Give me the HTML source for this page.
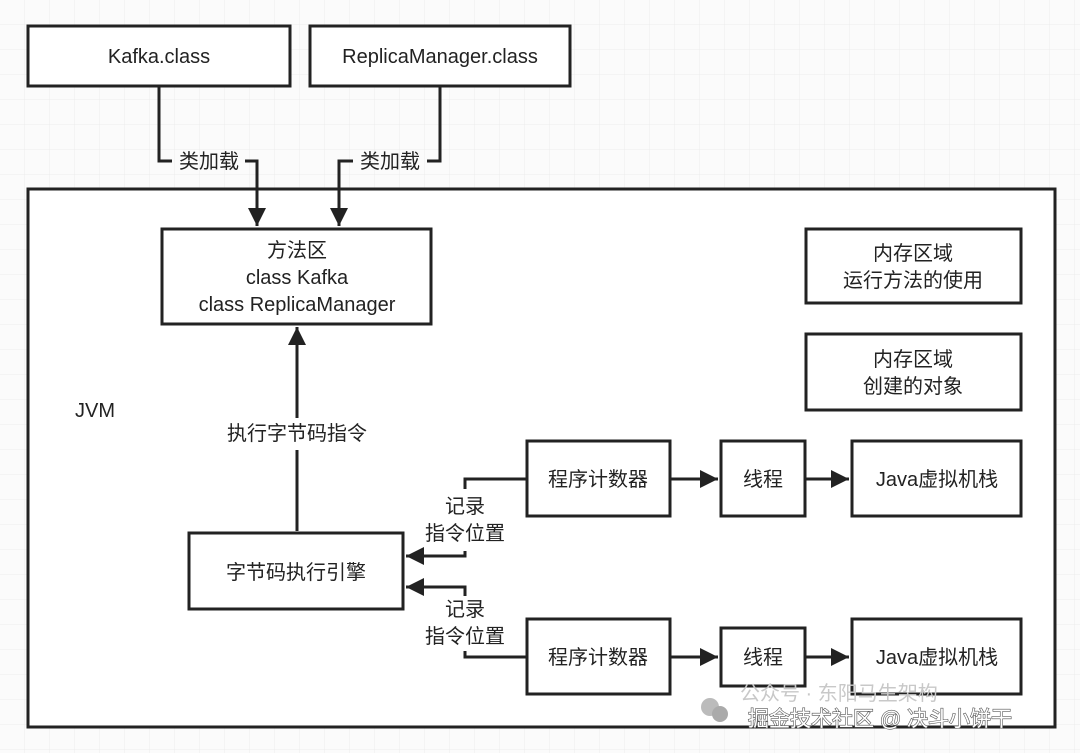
<!DOCTYPE html>
<html><head><meta charset="utf-8"><style>
html,body{margin:0;padding:0;background:#fafafa;}
svg{display:block;}
text{font-family:"Liberation Sans","Noto Sans CJK SC",sans-serif;fill:#222;}
</style></head><body>
<svg width="1080" height="753" viewBox="0 0 1080 753" xmlns="http://www.w3.org/2000/svg">
<defs>
<pattern id="g" width="25" height="25" patternUnits="userSpaceOnUse" x="0" y="0">
<path d="M25 0V25M0 25H25" stroke="#ececec" stroke-width="1" fill="none"/>
</pattern>
<marker id="a" viewBox="0 0 10 10" refX="10" refY="5" markerWidth="6" markerHeight="6" orient="auto" markerUnits="strokeWidth">
<path d="M0 0L10 5L0 10z" fill="#222"/></marker>
</defs>
<rect width="1080" height="753" fill="#fbfbfb"/>
<rect width="1080" height="753" fill="url(#g)"/>
<g fill="#fff" stroke="#222" stroke-width="3">
<rect x="28" y="189" width="1027" height="538"/>
<rect x="28" y="26" width="262" height="60"/>
<rect x="310" y="26" width="260" height="60"/>
<rect x="162" y="229" width="269" height="95"/>
<rect x="806" y="229" width="215" height="74"/>
<rect x="806" y="334" width="215" height="76"/>
<rect x="189" y="533" width="214" height="76"/>
<rect x="527" y="441" width="143" height="75"/>
<rect x="721" y="441" width="84" height="75"/>
<rect x="852" y="441" width="169" height="75"/>
<rect x="527" y="619" width="143" height="75"/>
<rect x="721" y="628" width="84" height="58"/>
<rect x="852" y="619" width="169" height="75"/>
</g>
<g fill="none" stroke="#222" stroke-width="3">
<path d="M159 86V161H172"/><path d="M245 161H257V226" marker-end="url(#a)"/>
<path d="M440 86V161H427"/><path d="M353 161H339V226" marker-end="url(#a)"/>
<path d="M297 531V450"/><path d="M297 418V327" marker-end="url(#a)"/>
<path d="M527 479H465V489"/><path d="M465 551V556H406" marker-end="url(#a)"/>
<path d="M527 657H465V651"/><path d="M465 596V587H406" marker-end="url(#a)"/>
<path d="M670 479H718" marker-end="url(#a)"/>
<path d="M805 479H849" marker-end="url(#a)"/>
<path d="M670 657H718" marker-end="url(#a)"/>
<path d="M805 657H849" marker-end="url(#a)"/>
</g>
<g font-size="20" text-anchor="middle">
<text x="159" y="63">Kafka.class</text>
<text x="440" y="63">ReplicaManager.class</text>
<text x="209" y="168">类加载</text>
<text x="390" y="168">类加载</text>
<text x="297" y="257">方法区</text>
<text x="297" y="284">class Kafka</text>
<text x="297" y="311">class ReplicaManager</text>
<text x="913" y="260">内存区域</text>
<text x="913" y="287">运行方法的使用</text>
<text x="913" y="366">内存区域</text>
<text x="913" y="393">创建的对象</text>
<text x="95" y="417">JVM</text>
<text x="297" y="440">执行字节码指令</text>
<text x="296" y="579">字节码执行引擎</text>
<text x="465" y="513">记录</text>
<text x="465" y="540">指令位置</text>
<text x="465" y="616">记录</text>
<text x="465" y="643">指令位置</text>
<text x="598" y="486">程序计数器</text>
<text x="763" y="486">线程</text>
<text x="937" y="486">Java虚拟机栈</text>
<text x="598" y="664">程序计数器</text>
<text x="763" y="664">线程</text>
<text x="937" y="664">Java虚拟机栈</text>
</g>
<circle cx="710" cy="707" r="9" fill="#bbb"/><circle cx="720" cy="714" r="8" fill="#aaa"/>
<text x="740" y="700" font-size="20" style="fill:#c8c8c8">公众号 · 东阳马生架构</text>
<text x="748" y="726" font-size="21" style="fill:#fff;stroke:#555;stroke-width:1.2;paint-order:stroke">掘金技术社区 @ 决斗小饼干</text>
</svg>
</body></html>
